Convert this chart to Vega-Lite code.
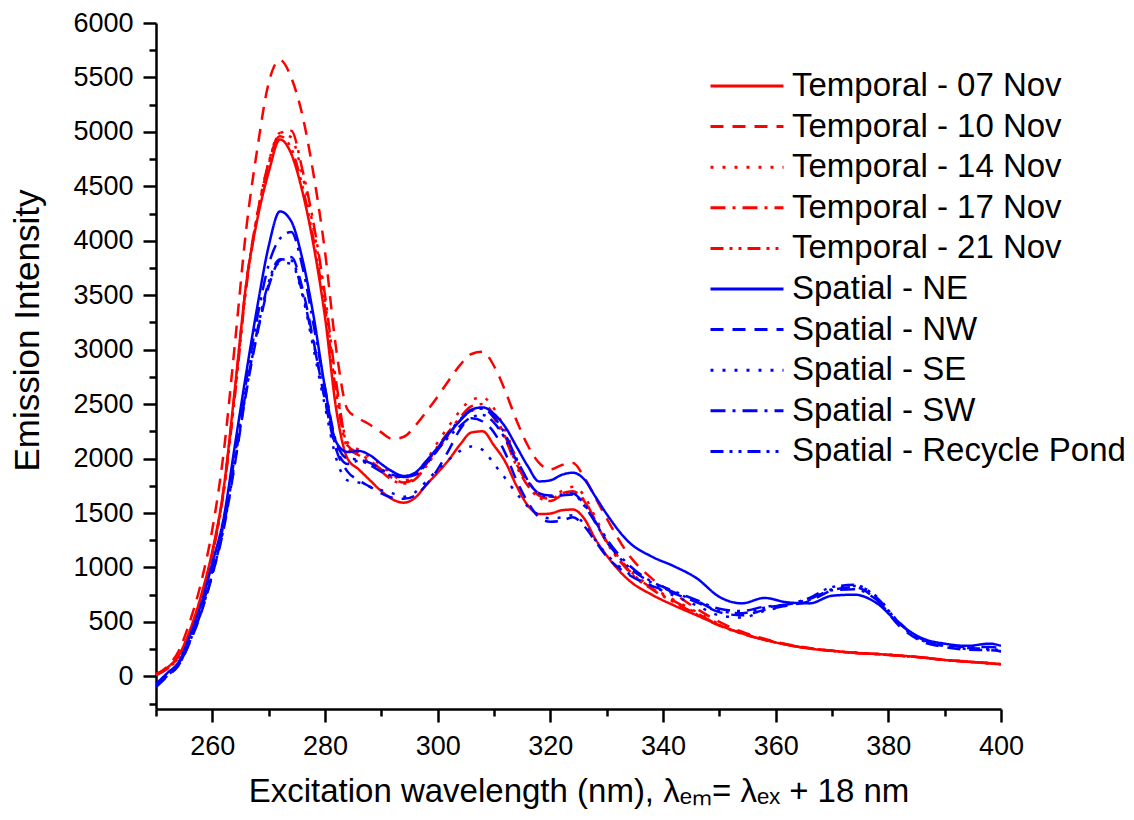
{
"$schema": "https://vega.github.io/schema/vega-lite/v6.json",
"width": 845, "height": 686,
"autosize": {"type": "none"},
"padding": {"left": 156, "top": 23, "right": 133, "bottom": 111},
"background": "white",
"config": {"view": {"stroke": null}, "font": "Liberation Sans"},
"datasets": {"d": [
{"s":"Temporal - 07 Nov","x":250,"y":20},{"s":"Temporal - 07 Nov","x":252,"y":80},{"s":"Temporal - 07 Nov","x":254,"y":190},{"s":"Temporal - 07 Nov","x":256,"y":420},{"s":"Temporal - 07 Nov","x":258,"y":740},{"s":"Temporal - 07 Nov","x":260,"y":1150},{"s":"Temporal - 07 Nov","x":262,"y":1720},{"s":"Temporal - 07 Nov","x":264,"y":2640},{"s":"Temporal - 07 Nov","x":266,"y":3600},{"s":"Temporal - 07 Nov","x":268,"y":4200},{"s":"Temporal - 07 Nov","x":270,"y":4630},{"s":"Temporal - 07 Nov","x":272,"y":4930},{"s":"Temporal - 07 Nov","x":274,"y":4800},{"s":"Temporal - 07 Nov","x":276,"y":4450},{"s":"Temporal - 07 Nov","x":278,"y":3950},{"s":"Temporal - 07 Nov","x":280,"y":3300},{"s":"Temporal - 07 Nov","x":282,"y":2450},{"s":"Temporal - 07 Nov","x":284,"y":2000},{"s":"Temporal - 07 Nov","x":286,"y":1900},{"s":"Temporal - 07 Nov","x":288,"y":1800},{"s":"Temporal - 07 Nov","x":290,"y":1700},{"s":"Temporal - 07 Nov","x":292,"y":1625},{"s":"Temporal - 07 Nov","x":294,"y":1595},{"s":"Temporal - 07 Nov","x":296,"y":1640},{"s":"Temporal - 07 Nov","x":298,"y":1760},{"s":"Temporal - 07 Nov","x":300,"y":1870},{"s":"Temporal - 07 Nov","x":302,"y":1990},{"s":"Temporal - 07 Nov","x":304,"y":2130},{"s":"Temporal - 07 Nov","x":306,"y":2240},{"s":"Temporal - 07 Nov","x":308,"y":2250},{"s":"Temporal - 07 Nov","x":310,"y":2120},{"s":"Temporal - 07 Nov","x":312,"y":1970},{"s":"Temporal - 07 Nov","x":314,"y":1750},{"s":"Temporal - 07 Nov","x":316,"y":1570},{"s":"Temporal - 07 Nov","x":318,"y":1490},{"s":"Temporal - 07 Nov","x":320,"y":1495},{"s":"Temporal - 07 Nov","x":322,"y":1525},{"s":"Temporal - 07 Nov","x":324,"y":1532},{"s":"Temporal - 07 Nov","x":326,"y":1450},{"s":"Temporal - 07 Nov","x":328,"y":1260},{"s":"Temporal - 07 Nov","x":330,"y":1110},{"s":"Temporal - 07 Nov","x":334,"y":880},{"s":"Temporal - 07 Nov","x":338,"y":750},{"s":"Temporal - 07 Nov","x":342,"y":650},{"s":"Temporal - 07 Nov","x":346,"y":560},{"s":"Temporal - 07 Nov","x":350,"y":470},{"s":"Temporal - 07 Nov","x":354,"y":395},{"s":"Temporal - 07 Nov","x":358,"y":335},{"s":"Temporal - 07 Nov","x":362,"y":290},{"s":"Temporal - 07 Nov","x":366,"y":255},{"s":"Temporal - 07 Nov","x":370,"y":235},{"s":"Temporal - 07 Nov","x":374,"y":215},{"s":"Temporal - 07 Nov","x":378,"y":205},{"s":"Temporal - 07 Nov","x":382,"y":190},{"s":"Temporal - 07 Nov","x":386,"y":175},{"s":"Temporal - 07 Nov","x":390,"y":150},{"s":"Temporal - 07 Nov","x":394,"y":135},{"s":"Temporal - 07 Nov","x":398,"y":120},{"s":"Temporal - 07 Nov","x":400,"y":110},
{"s":"Temporal - 10 Nov","x":250,"y":20},{"s":"Temporal - 10 Nov","x":252,"y":90},{"s":"Temporal - 10 Nov","x":254,"y":230},{"s":"Temporal - 10 Nov","x":256,"y":500},{"s":"Temporal - 10 Nov","x":258,"y":860},{"s":"Temporal - 10 Nov","x":260,"y":1350},{"s":"Temporal - 10 Nov","x":262,"y":2050},{"s":"Temporal - 10 Nov","x":264,"y":3050},{"s":"Temporal - 10 Nov","x":266,"y":4100},{"s":"Temporal - 10 Nov","x":268,"y":4850},{"s":"Temporal - 10 Nov","x":270,"y":5450},{"s":"Temporal - 10 Nov","x":272,"y":5660},{"s":"Temporal - 10 Nov","x":274,"y":5500},{"s":"Temporal - 10 Nov","x":276,"y":5150},{"s":"Temporal - 10 Nov","x":278,"y":4600},{"s":"Temporal - 10 Nov","x":280,"y":3900},{"s":"Temporal - 10 Nov","x":282,"y":3000},{"s":"Temporal - 10 Nov","x":284,"y":2450},{"s":"Temporal - 10 Nov","x":286,"y":2370},{"s":"Temporal - 10 Nov","x":288,"y":2310},{"s":"Temporal - 10 Nov","x":290,"y":2240},{"s":"Temporal - 10 Nov","x":292,"y":2180},{"s":"Temporal - 10 Nov","x":294,"y":2200},{"s":"Temporal - 10 Nov","x":296,"y":2300},{"s":"Temporal - 10 Nov","x":298,"y":2430},{"s":"Temporal - 10 Nov","x":300,"y":2570},{"s":"Temporal - 10 Nov","x":302,"y":2720},{"s":"Temporal - 10 Nov","x":304,"y":2860},{"s":"Temporal - 10 Nov","x":306,"y":2960},{"s":"Temporal - 10 Nov","x":308,"y":2980},{"s":"Temporal - 10 Nov","x":310,"y":2850},{"s":"Temporal - 10 Nov","x":312,"y":2620},{"s":"Temporal - 10 Nov","x":314,"y":2350},{"s":"Temporal - 10 Nov","x":316,"y":2120},{"s":"Temporal - 10 Nov","x":318,"y":1960},{"s":"Temporal - 10 Nov","x":320,"y":1900},{"s":"Temporal - 10 Nov","x":322,"y":1940},{"s":"Temporal - 10 Nov","x":324,"y":1960},{"s":"Temporal - 10 Nov","x":326,"y":1830},{"s":"Temporal - 10 Nov","x":328,"y":1640},{"s":"Temporal - 10 Nov","x":330,"y":1450},{"s":"Temporal - 10 Nov","x":334,"y":1110},{"s":"Temporal - 10 Nov","x":338,"y":900},{"s":"Temporal - 10 Nov","x":342,"y":760},{"s":"Temporal - 10 Nov","x":346,"y":620},{"s":"Temporal - 10 Nov","x":350,"y":500},{"s":"Temporal - 10 Nov","x":354,"y":410},{"s":"Temporal - 10 Nov","x":358,"y":345},{"s":"Temporal - 10 Nov","x":362,"y":295},{"s":"Temporal - 10 Nov","x":366,"y":260},{"s":"Temporal - 10 Nov","x":370,"y":235},{"s":"Temporal - 10 Nov","x":374,"y":218},{"s":"Temporal - 10 Nov","x":378,"y":205},{"s":"Temporal - 10 Nov","x":382,"y":190},{"s":"Temporal - 10 Nov","x":386,"y":172},{"s":"Temporal - 10 Nov","x":390,"y":150},{"s":"Temporal - 10 Nov","x":394,"y":135},{"s":"Temporal - 10 Nov","x":398,"y":120},{"s":"Temporal - 10 Nov","x":400,"y":110},
{"s":"Temporal - 14 Nov","x":250,"y":10},{"s":"Temporal - 14 Nov","x":252,"y":70},{"s":"Temporal - 14 Nov","x":254,"y":175},{"s":"Temporal - 14 Nov","x":256,"y":400},{"s":"Temporal - 14 Nov","x":258,"y":720},{"s":"Temporal - 14 Nov","x":260,"y":1120},{"s":"Temporal - 14 Nov","x":262,"y":1700},{"s":"Temporal - 14 Nov","x":264,"y":2600},{"s":"Temporal - 14 Nov","x":266,"y":3580},{"s":"Temporal - 14 Nov","x":268,"y":4250},{"s":"Temporal - 14 Nov","x":270,"y":4720},{"s":"Temporal - 14 Nov","x":272,"y":4990},{"s":"Temporal - 14 Nov","x":274,"y":4950},{"s":"Temporal - 14 Nov","x":276,"y":4600},{"s":"Temporal - 14 Nov","x":278,"y":4100},{"s":"Temporal - 14 Nov","x":280,"y":3450},{"s":"Temporal - 14 Nov","x":282,"y":2650},{"s":"Temporal - 14 Nov","x":284,"y":2150},{"s":"Temporal - 14 Nov","x":286,"y":2080},{"s":"Temporal - 14 Nov","x":288,"y":2010},{"s":"Temporal - 14 Nov","x":290,"y":1940},{"s":"Temporal - 14 Nov","x":292,"y":1850},{"s":"Temporal - 14 Nov","x":294,"y":1800},{"s":"Temporal - 14 Nov","x":296,"y":1840},{"s":"Temporal - 14 Nov","x":298,"y":1980},{"s":"Temporal - 14 Nov","x":300,"y":2150},{"s":"Temporal - 14 Nov","x":302,"y":2300},{"s":"Temporal - 14 Nov","x":304,"y":2440},{"s":"Temporal - 14 Nov","x":306,"y":2540},{"s":"Temporal - 14 Nov","x":308,"y":2560},{"s":"Temporal - 14 Nov","x":310,"y":2460},{"s":"Temporal - 14 Nov","x":312,"y":2260},{"s":"Temporal - 14 Nov","x":314,"y":2000},{"s":"Temporal - 14 Nov","x":316,"y":1800},{"s":"Temporal - 14 Nov","x":318,"y":1680},{"s":"Temporal - 14 Nov","x":320,"y":1650},{"s":"Temporal - 14 Nov","x":322,"y":1700},{"s":"Temporal - 14 Nov","x":324,"y":1740},{"s":"Temporal - 14 Nov","x":326,"y":1660},{"s":"Temporal - 14 Nov","x":328,"y":1460},{"s":"Temporal - 14 Nov","x":330,"y":1260},{"s":"Temporal - 14 Nov","x":334,"y":980},{"s":"Temporal - 14 Nov","x":338,"y":820},{"s":"Temporal - 14 Nov","x":342,"y":700},{"s":"Temporal - 14 Nov","x":346,"y":590},{"s":"Temporal - 14 Nov","x":350,"y":480},{"s":"Temporal - 14 Nov","x":354,"y":400},{"s":"Temporal - 14 Nov","x":358,"y":340},{"s":"Temporal - 14 Nov","x":362,"y":292},{"s":"Temporal - 14 Nov","x":366,"y":258},{"s":"Temporal - 14 Nov","x":370,"y":236},{"s":"Temporal - 14 Nov","x":374,"y":217},{"s":"Temporal - 14 Nov","x":378,"y":206},{"s":"Temporal - 14 Nov","x":382,"y":190},{"s":"Temporal - 14 Nov","x":386,"y":174},{"s":"Temporal - 14 Nov","x":390,"y":152},{"s":"Temporal - 14 Nov","x":394,"y":136},{"s":"Temporal - 14 Nov","x":398,"y":121},{"s":"Temporal - 14 Nov","x":400,"y":112},
{"s":"Temporal - 17 Nov","x":250,"y":15},{"s":"Temporal - 17 Nov","x":252,"y":75},{"s":"Temporal - 17 Nov","x":254,"y":180},{"s":"Temporal - 17 Nov","x":256,"y":410},{"s":"Temporal - 17 Nov","x":258,"y":730},{"s":"Temporal - 17 Nov","x":260,"y":1130},{"s":"Temporal - 17 Nov","x":262,"y":1710},{"s":"Temporal - 17 Nov","x":264,"y":2620},{"s":"Temporal - 17 Nov","x":266,"y":3600},{"s":"Temporal - 17 Nov","x":268,"y":4250},{"s":"Temporal - 17 Nov","x":270,"y":4700},{"s":"Temporal - 17 Nov","x":272,"y":4990},{"s":"Temporal - 17 Nov","x":274,"y":5010},{"s":"Temporal - 17 Nov","x":276,"y":4650},{"s":"Temporal - 17 Nov","x":278,"y":4150},{"s":"Temporal - 17 Nov","x":280,"y":3500},{"s":"Temporal - 17 Nov","x":282,"y":2700},{"s":"Temporal - 17 Nov","x":284,"y":2120},{"s":"Temporal - 17 Nov","x":286,"y":2050},{"s":"Temporal - 17 Nov","x":288,"y":1980},{"s":"Temporal - 17 Nov","x":290,"y":1900},{"s":"Temporal - 17 Nov","x":292,"y":1820},{"s":"Temporal - 17 Nov","x":294,"y":1780},{"s":"Temporal - 17 Nov","x":296,"y":1820},{"s":"Temporal - 17 Nov","x":298,"y":1950},{"s":"Temporal - 17 Nov","x":300,"y":2110},{"s":"Temporal - 17 Nov","x":302,"y":2250},{"s":"Temporal - 17 Nov","x":304,"y":2380},{"s":"Temporal - 17 Nov","x":306,"y":2480},{"s":"Temporal - 17 Nov","x":308,"y":2500},{"s":"Temporal - 17 Nov","x":310,"y":2400},{"s":"Temporal - 17 Nov","x":312,"y":2200},{"s":"Temporal - 17 Nov","x":314,"y":1950},{"s":"Temporal - 17 Nov","x":316,"y":1770},{"s":"Temporal - 17 Nov","x":318,"y":1660},{"s":"Temporal - 17 Nov","x":320,"y":1630},{"s":"Temporal - 17 Nov","x":322,"y":1680},{"s":"Temporal - 17 Nov","x":324,"y":1700},{"s":"Temporal - 17 Nov","x":326,"y":1620},{"s":"Temporal - 17 Nov","x":328,"y":1430},{"s":"Temporal - 17 Nov","x":330,"y":1240},{"s":"Temporal - 17 Nov","x":334,"y":970},{"s":"Temporal - 17 Nov","x":338,"y":810},{"s":"Temporal - 17 Nov","x":342,"y":690},{"s":"Temporal - 17 Nov","x":346,"y":580},{"s":"Temporal - 17 Nov","x":350,"y":470},{"s":"Temporal - 17 Nov","x":354,"y":395},{"s":"Temporal - 17 Nov","x":358,"y":338},{"s":"Temporal - 17 Nov","x":362,"y":290},{"s":"Temporal - 17 Nov","x":366,"y":256},{"s":"Temporal - 17 Nov","x":370,"y":234},{"s":"Temporal - 17 Nov","x":374,"y":216},{"s":"Temporal - 17 Nov","x":378,"y":204},{"s":"Temporal - 17 Nov","x":382,"y":188},{"s":"Temporal - 17 Nov","x":386,"y":172},{"s":"Temporal - 17 Nov","x":390,"y":150},{"s":"Temporal - 17 Nov","x":394,"y":134},{"s":"Temporal - 17 Nov","x":398,"y":119},{"s":"Temporal - 17 Nov","x":400,"y":110},
{"s":"Temporal - 21 Nov","x":250,"y":10},{"s":"Temporal - 21 Nov","x":252,"y":70},{"s":"Temporal - 21 Nov","x":254,"y":170},{"s":"Temporal - 21 Nov","x":256,"y":390},{"s":"Temporal - 21 Nov","x":258,"y":710},{"s":"Temporal - 21 Nov","x":260,"y":1110},{"s":"Temporal - 21 Nov","x":262,"y":1690},{"s":"Temporal - 21 Nov","x":264,"y":2570},{"s":"Temporal - 21 Nov","x":266,"y":3560},{"s":"Temporal - 21 Nov","x":268,"y":4230},{"s":"Temporal - 21 Nov","x":270,"y":4720},{"s":"Temporal - 21 Nov","x":272,"y":4960},{"s":"Temporal - 21 Nov","x":274,"y":4850},{"s":"Temporal - 21 Nov","x":276,"y":4500},{"s":"Temporal - 21 Nov","x":278,"y":4000},{"s":"Temporal - 21 Nov","x":280,"y":3380},{"s":"Temporal - 21 Nov","x":282,"y":2600},{"s":"Temporal - 21 Nov","x":284,"y":2100},{"s":"Temporal - 21 Nov","x":286,"y":2030},{"s":"Temporal - 21 Nov","x":288,"y":1960},{"s":"Temporal - 21 Nov","x":290,"y":1880},{"s":"Temporal - 21 Nov","x":292,"y":1800},{"s":"Temporal - 21 Nov","x":294,"y":1770},{"s":"Temporal - 21 Nov","x":296,"y":1810},{"s":"Temporal - 21 Nov","x":298,"y":1930},{"s":"Temporal - 21 Nov","x":300,"y":2080},{"s":"Temporal - 21 Nov","x":302,"y":2220},{"s":"Temporal - 21 Nov","x":304,"y":2350},{"s":"Temporal - 21 Nov","x":306,"y":2440},{"s":"Temporal - 21 Nov","x":308,"y":2460},{"s":"Temporal - 21 Nov","x":310,"y":2370},{"s":"Temporal - 21 Nov","x":312,"y":2180},{"s":"Temporal - 21 Nov","x":314,"y":1930},{"s":"Temporal - 21 Nov","x":316,"y":1750},{"s":"Temporal - 21 Nov","x":318,"y":1640},{"s":"Temporal - 21 Nov","x":320,"y":1610},{"s":"Temporal - 21 Nov","x":322,"y":1660},{"s":"Temporal - 21 Nov","x":324,"y":1690},{"s":"Temporal - 21 Nov","x":326,"y":1610},{"s":"Temporal - 21 Nov","x":328,"y":1420},{"s":"Temporal - 21 Nov","x":330,"y":1230},{"s":"Temporal - 21 Nov","x":334,"y":960},{"s":"Temporal - 21 Nov","x":338,"y":800},{"s":"Temporal - 21 Nov","x":342,"y":680},{"s":"Temporal - 21 Nov","x":346,"y":570},{"s":"Temporal - 21 Nov","x":350,"y":465},{"s":"Temporal - 21 Nov","x":354,"y":392},{"s":"Temporal - 21 Nov","x":358,"y":336},{"s":"Temporal - 21 Nov","x":362,"y":290},{"s":"Temporal - 21 Nov","x":366,"y":255},{"s":"Temporal - 21 Nov","x":370,"y":233},{"s":"Temporal - 21 Nov","x":374,"y":215},{"s":"Temporal - 21 Nov","x":378,"y":204},{"s":"Temporal - 21 Nov","x":382,"y":189},{"s":"Temporal - 21 Nov","x":386,"y":173},{"s":"Temporal - 21 Nov","x":390,"y":151},{"s":"Temporal - 21 Nov","x":394,"y":135},{"s":"Temporal - 21 Nov","x":398,"y":120},{"s":"Temporal - 21 Nov","x":400,"y":111},
{"s":"Spatial - NE","x":250,"y":-70},{"s":"Spatial - NE","x":252,"y":30},{"s":"Spatial - NE","x":254,"y":130},{"s":"Spatial - NE","x":256,"y":370},{"s":"Spatial - NE","x":258,"y":660},{"s":"Spatial - NE","x":260,"y":1040},{"s":"Spatial - NE","x":262,"y":1450},{"s":"Spatial - NE","x":264,"y":2120},{"s":"Spatial - NE","x":266,"y":2780},{"s":"Spatial - NE","x":268,"y":3400},{"s":"Spatial - NE","x":270,"y":3950},{"s":"Spatial - NE","x":272,"y":4270},{"s":"Spatial - NE","x":274,"y":4180},{"s":"Spatial - NE","x":276,"y":3830},{"s":"Spatial - NE","x":278,"y":3300},{"s":"Spatial - NE","x":280,"y":2650},{"s":"Spatial - NE","x":282,"y":2150},{"s":"Spatial - NE","x":284,"y":2060},{"s":"Spatial - NE","x":286,"y":2070},{"s":"Spatial - NE","x":288,"y":2030},{"s":"Spatial - NE","x":290,"y":1950},{"s":"Spatial - NE","x":292,"y":1880},{"s":"Spatial - NE","x":294,"y":1840},{"s":"Spatial - NE","x":296,"y":1870},{"s":"Spatial - NE","x":298,"y":1980},{"s":"Spatial - NE","x":300,"y":2100},{"s":"Spatial - NE","x":302,"y":2230},{"s":"Spatial - NE","x":304,"y":2350},{"s":"Spatial - NE","x":306,"y":2450},{"s":"Spatial - NE","x":308,"y":2470},{"s":"Spatial - NE","x":310,"y":2410},{"s":"Spatial - NE","x":312,"y":2290},{"s":"Spatial - NE","x":314,"y":2110},{"s":"Spatial - NE","x":316,"y":1930},{"s":"Spatial - NE","x":318,"y":1790},{"s":"Spatial - NE","x":320,"y":1800},{"s":"Spatial - NE","x":322,"y":1850},{"s":"Spatial - NE","x":324,"y":1870},{"s":"Spatial - NE","x":326,"y":1810},{"s":"Spatial - NE","x":328,"y":1650},{"s":"Spatial - NE","x":330,"y":1490},{"s":"Spatial - NE","x":334,"y":1230},{"s":"Spatial - NE","x":338,"y":1100},{"s":"Spatial - NE","x":342,"y":1010},{"s":"Spatial - NE","x":346,"y":900},{"s":"Spatial - NE","x":350,"y":730},{"s":"Spatial - NE","x":354,"y":670},{"s":"Spatial - NE","x":358,"y":720},{"s":"Spatial - NE","x":362,"y":680},{"s":"Spatial - NE","x":366,"y":670},{"s":"Spatial - NE","x":370,"y":740},{"s":"Spatial - NE","x":374,"y":750},{"s":"Spatial - NE","x":378,"y":670},{"s":"Spatial - NE","x":382,"y":480},{"s":"Spatial - NE","x":386,"y":350},{"s":"Spatial - NE","x":390,"y":300},{"s":"Spatial - NE","x":394,"y":280},{"s":"Spatial - NE","x":398,"y":300},{"s":"Spatial - NE","x":400,"y":280},
{"s":"Spatial - NW","x":250,"y":-100},{"s":"Spatial - NW","x":252,"y":0},{"s":"Spatial - NW","x":254,"y":100},{"s":"Spatial - NW","x":256,"y":310},{"s":"Spatial - NW","x":258,"y":580},{"s":"Spatial - NW","x":260,"y":930},{"s":"Spatial - NW","x":262,"y":1350},{"s":"Spatial - NW","x":264,"y":1950},{"s":"Spatial - NW","x":266,"y":2600},{"s":"Spatial - NW","x":268,"y":3150},{"s":"Spatial - NW","x":270,"y":3580},{"s":"Spatial - NW","x":272,"y":3820},{"s":"Spatial - NW","x":274,"y":3850},{"s":"Spatial - NW","x":276,"y":3560},{"s":"Spatial - NW","x":278,"y":3070},{"s":"Spatial - NW","x":280,"y":2530},{"s":"Spatial - NW","x":282,"y":2080},{"s":"Spatial - NW","x":284,"y":1880},{"s":"Spatial - NW","x":286,"y":1800},{"s":"Spatial - NW","x":288,"y":1740},{"s":"Spatial - NW","x":290,"y":1680},{"s":"Spatial - NW","x":292,"y":1640},{"s":"Spatial - NW","x":294,"y":1630},{"s":"Spatial - NW","x":296,"y":1660},{"s":"Spatial - NW","x":298,"y":1760},{"s":"Spatial - NW","x":300,"y":1900},{"s":"Spatial - NW","x":302,"y":2080},{"s":"Spatial - NW","x":304,"y":2270},{"s":"Spatial - NW","x":306,"y":2370},{"s":"Spatial - NW","x":308,"y":2340},{"s":"Spatial - NW","x":310,"y":2240},{"s":"Spatial - NW","x":312,"y":2050},{"s":"Spatial - NW","x":314,"y":1800},{"s":"Spatial - NW","x":316,"y":1600},{"s":"Spatial - NW","x":318,"y":1460},{"s":"Spatial - NW","x":320,"y":1420},{"s":"Spatial - NW","x":322,"y":1430},{"s":"Spatial - NW","x":324,"y":1460},{"s":"Spatial - NW","x":326,"y":1380},{"s":"Spatial - NW","x":328,"y":1240},{"s":"Spatial - NW","x":330,"y":1100},{"s":"Spatial - NW","x":334,"y":930},{"s":"Spatial - NW","x":338,"y":830},{"s":"Spatial - NW","x":342,"y":760},{"s":"Spatial - NW","x":346,"y":680},{"s":"Spatial - NW","x":350,"y":590},{"s":"Spatial - NW","x":354,"y":560},{"s":"Spatial - NW","x":358,"y":610},{"s":"Spatial - NW","x":362,"y":650},{"s":"Spatial - NW","x":366,"y":690},{"s":"Spatial - NW","x":370,"y":790},{"s":"Spatial - NW","x":374,"y":820},{"s":"Spatial - NW","x":378,"y":700},{"s":"Spatial - NW","x":382,"y":460},{"s":"Spatial - NW","x":386,"y":320},{"s":"Spatial - NW","x":390,"y":270},{"s":"Spatial - NW","x":394,"y":245},{"s":"Spatial - NW","x":398,"y":240},{"s":"Spatial - NW","x":400,"y":230},
{"s":"Spatial - SE","x":250,"y":-90},{"s":"Spatial - SE","x":252,"y":5},{"s":"Spatial - SE","x":254,"y":105},{"s":"Spatial - SE","x":256,"y":320},{"s":"Spatial - SE","x":258,"y":590},{"s":"Spatial - SE","x":260,"y":940},{"s":"Spatial - SE","x":262,"y":1360},{"s":"Spatial - SE","x":264,"y":1960},{"s":"Spatial - SE","x":266,"y":2620},{"s":"Spatial - SE","x":268,"y":3170},{"s":"Spatial - SE","x":270,"y":3600},{"s":"Spatial - SE","x":272,"y":3800},{"s":"Spatial - SE","x":274,"y":3790},{"s":"Spatial - SE","x":276,"y":3500},{"s":"Spatial - SE","x":278,"y":3000},{"s":"Spatial - SE","x":280,"y":2480},{"s":"Spatial - SE","x":282,"y":2000},{"s":"Spatial - SE","x":284,"y":1800},{"s":"Spatial - SE","x":286,"y":1780},{"s":"Spatial - SE","x":288,"y":1740},{"s":"Spatial - SE","x":290,"y":1710},{"s":"Spatial - SE","x":292,"y":1680},{"s":"Spatial - SE","x":294,"y":1650},{"s":"Spatial - SE","x":296,"y":1690},{"s":"Spatial - SE","x":298,"y":1790},{"s":"Spatial - SE","x":300,"y":1900},{"s":"Spatial - SE","x":302,"y":1990},{"s":"Spatial - SE","x":304,"y":2070},{"s":"Spatial - SE","x":306,"y":2110},{"s":"Spatial - SE","x":308,"y":2080},{"s":"Spatial - SE","x":310,"y":1950},{"s":"Spatial - SE","x":312,"y":1820},{"s":"Spatial - SE","x":314,"y":1680},{"s":"Spatial - SE","x":316,"y":1560},{"s":"Spatial - SE","x":318,"y":1480},{"s":"Spatial - SE","x":320,"y":1450},{"s":"Spatial - SE","x":322,"y":1460},{"s":"Spatial - SE","x":324,"y":1480},{"s":"Spatial - SE","x":326,"y":1400},{"s":"Spatial - SE","x":328,"y":1250},{"s":"Spatial - SE","x":330,"y":1120},{"s":"Spatial - SE","x":334,"y":940},{"s":"Spatial - SE","x":338,"y":830},{"s":"Spatial - SE","x":342,"y":740},{"s":"Spatial - SE","x":346,"y":650},{"s":"Spatial - SE","x":350,"y":560},{"s":"Spatial - SE","x":354,"y":540},{"s":"Spatial - SE","x":358,"y":600},{"s":"Spatial - SE","x":362,"y":650},{"s":"Spatial - SE","x":366,"y":700},{"s":"Spatial - SE","x":370,"y":800},{"s":"Spatial - SE","x":374,"y":830},{"s":"Spatial - SE","x":378,"y":730},{"s":"Spatial - SE","x":382,"y":480},{"s":"Spatial - SE","x":386,"y":330},{"s":"Spatial - SE","x":390,"y":280},{"s":"Spatial - SE","x":394,"y":250},{"s":"Spatial - SE","x":398,"y":240},{"s":"Spatial - SE","x":400,"y":230},
{"s":"Spatial - SW","x":250,"y":-90},{"s":"Spatial - SW","x":252,"y":10},{"s":"Spatial - SW","x":254,"y":115},{"s":"Spatial - SW","x":256,"y":340},{"s":"Spatial - SW","x":258,"y":610},{"s":"Spatial - SW","x":260,"y":970},{"s":"Spatial - SW","x":262,"y":1400},{"s":"Spatial - SW","x":264,"y":2030},{"s":"Spatial - SW","x":266,"y":2700},{"s":"Spatial - SW","x":268,"y":3300},{"s":"Spatial - SW","x":270,"y":3780},{"s":"Spatial - SW","x":272,"y":4020},{"s":"Spatial - SW","x":274,"y":4080},{"s":"Spatial - SW","x":276,"y":3760},{"s":"Spatial - SW","x":278,"y":3220},{"s":"Spatial - SW","x":280,"y":2650},{"s":"Spatial - SW","x":282,"y":2150},{"s":"Spatial - SW","x":284,"y":2000},{"s":"Spatial - SW","x":286,"y":1990},{"s":"Spatial - SW","x":288,"y":1960},{"s":"Spatial - SW","x":290,"y":1900},{"s":"Spatial - SW","x":292,"y":1850},{"s":"Spatial - SW","x":294,"y":1830},{"s":"Spatial - SW","x":296,"y":1860},{"s":"Spatial - SW","x":298,"y":1960},{"s":"Spatial - SW","x":300,"y":2100},{"s":"Spatial - SW","x":302,"y":2240},{"s":"Spatial - SW","x":304,"y":2360},{"s":"Spatial - SW","x":306,"y":2440},{"s":"Spatial - SW","x":308,"y":2460},{"s":"Spatial - SW","x":310,"y":2380},{"s":"Spatial - SW","x":312,"y":2220},{"s":"Spatial - SW","x":314,"y":2000},{"s":"Spatial - SW","x":316,"y":1800},{"s":"Spatial - SW","x":318,"y":1680},{"s":"Spatial - SW","x":320,"y":1660},{"s":"Spatial - SW","x":322,"y":1670},{"s":"Spatial - SW","x":324,"y":1680},{"s":"Spatial - SW","x":326,"y":1580},{"s":"Spatial - SW","x":328,"y":1420},{"s":"Spatial - SW","x":330,"y":1260},{"s":"Spatial - SW","x":334,"y":1020},{"s":"Spatial - SW","x":338,"y":870},{"s":"Spatial - SW","x":342,"y":780},{"s":"Spatial - SW","x":346,"y":700},{"s":"Spatial - SW","x":350,"y":620},{"s":"Spatial - SW","x":354,"y":600},{"s":"Spatial - SW","x":358,"y":640},{"s":"Spatial - SW","x":362,"y":660},{"s":"Spatial - SW","x":366,"y":710},{"s":"Spatial - SW","x":370,"y":790},{"s":"Spatial - SW","x":374,"y":800},{"s":"Spatial - SW","x":378,"y":700},{"s":"Spatial - SW","x":382,"y":490},{"s":"Spatial - SW","x":386,"y":340},{"s":"Spatial - SW","x":390,"y":290},{"s":"Spatial - SW","x":394,"y":270},{"s":"Spatial - SW","x":398,"y":270},{"s":"Spatial - SW","x":400,"y":260},
{"s":"Spatial - Recycle Pond","x":250,"y":-95},{"s":"Spatial - Recycle Pond","x":252,"y":5},{"s":"Spatial - Recycle Pond","x":254,"y":105},{"s":"Spatial - Recycle Pond","x":256,"y":320},{"s":"Spatial - Recycle Pond","x":258,"y":590},{"s":"Spatial - Recycle Pond","x":260,"y":940},{"s":"Spatial - Recycle Pond","x":262,"y":1370},{"s":"Spatial - Recycle Pond","x":264,"y":1980},{"s":"Spatial - Recycle Pond","x":266,"y":2630},{"s":"Spatial - Recycle Pond","x":268,"y":3180},{"s":"Spatial - Recycle Pond","x":270,"y":3620},{"s":"Spatial - Recycle Pond","x":272,"y":3830},{"s":"Spatial - Recycle Pond","x":274,"y":3820},{"s":"Spatial - Recycle Pond","x":276,"y":3520},{"s":"Spatial - Recycle Pond","x":278,"y":3050},{"s":"Spatial - Recycle Pond","x":280,"y":2550},{"s":"Spatial - Recycle Pond","x":282,"y":2100},{"s":"Spatial - Recycle Pond","x":284,"y":1950},{"s":"Spatial - Recycle Pond","x":286,"y":1980},{"s":"Spatial - Recycle Pond","x":288,"y":1940},{"s":"Spatial - Recycle Pond","x":290,"y":1880},{"s":"Spatial - Recycle Pond","x":292,"y":1840},{"s":"Spatial - Recycle Pond","x":294,"y":1830},{"s":"Spatial - Recycle Pond","x":296,"y":1850},{"s":"Spatial - Recycle Pond","x":298,"y":1950},{"s":"Spatial - Recycle Pond","x":300,"y":2080},{"s":"Spatial - Recycle Pond","x":302,"y":2200},{"s":"Spatial - Recycle Pond","x":304,"y":2300},{"s":"Spatial - Recycle Pond","x":306,"y":2380},{"s":"Spatial - Recycle Pond","x":308,"y":2400},{"s":"Spatial - Recycle Pond","x":310,"y":2330},{"s":"Spatial - Recycle Pond","x":312,"y":2180},{"s":"Spatial - Recycle Pond","x":314,"y":1980},{"s":"Spatial - Recycle Pond","x":316,"y":1790},{"s":"Spatial - Recycle Pond","x":318,"y":1680},{"s":"Spatial - Recycle Pond","x":320,"y":1650},{"s":"Spatial - Recycle Pond","x":322,"y":1660},{"s":"Spatial - Recycle Pond","x":324,"y":1670},{"s":"Spatial - Recycle Pond","x":326,"y":1570},{"s":"Spatial - Recycle Pond","x":328,"y":1410},{"s":"Spatial - Recycle Pond","x":330,"y":1240},{"s":"Spatial - Recycle Pond","x":334,"y":1000},{"s":"Spatial - Recycle Pond","x":338,"y":860},{"s":"Spatial - Recycle Pond","x":342,"y":770},{"s":"Spatial - Recycle Pond","x":346,"y":690},{"s":"Spatial - Recycle Pond","x":350,"y":600},{"s":"Spatial - Recycle Pond","x":354,"y":580},{"s":"Spatial - Recycle Pond","x":358,"y":630},{"s":"Spatial - Recycle Pond","x":362,"y":660},{"s":"Spatial - Recycle Pond","x":366,"y":720},{"s":"Spatial - Recycle Pond","x":370,"y":820},{"s":"Spatial - Recycle Pond","x":374,"y":840},{"s":"Spatial - Recycle Pond","x":378,"y":720},{"s":"Spatial - Recycle Pond","x":382,"y":490},{"s":"Spatial - Recycle Pond","x":386,"y":330},{"s":"Spatial - Recycle Pond","x":390,"y":280},{"s":"Spatial - Recycle Pond","x":394,"y":260},{"s":"Spatial - Recycle Pond","x":398,"y":250},{"s":"Spatial - Recycle Pond","x":400,"y":240}
]},
"data": {"name": "d"},
"mark": {"type": "line", "strokeWidth": 2.5, "interpolate": "monotone", "clip": true},
"encoding": {
  "x": {"field": "x", "type": "quantitative",
    "scale": {"domain": [250, 400], "nice": false, "zero": false},
    "axis": {"values": [250,260,270,280,290,300,310,320,330,340,350,360,370,380,390,400],
      "labelExpr": "datum.value % 20 === 0 ? datum.label : ''",
      "title": "Excitation wavelength (nm), λₑₘ= λₑₓ + 18 nm",
      "titleFont": "Liberation Sans", "titleFontSize": 33, "titleFontWeight": "normal", "titleColor": "black", "titlePadding": 16,
      "labelFont": "Liberation Sans", "labelFontSize": 27, "labelColor": "black", "labelPadding": 11, "labelFlush": false,
      "tickSize": {"condition": {"test": "datum.value % 20 === 0", "value": 13}, "value": 7},
      "tickWidth": 2.5, "tickColor": "black", "domainColor": "black", "domainWidth": 2.5, "grid": false}},
  "y": {"field": "y", "type": "quantitative",
    "scale": {"domain": [-300, 6000], "nice": false, "zero": false},
    "axis": {"values": [-250,0,250,500,750,1000,1250,1500,1750,2000,2250,2500,2750,3000,3250,3500,3750,4000,4250,4500,4750,5000,5250,5500,5750,6000],
      "labelExpr": "datum.value % 500 === 0 ? datum.label : ''",
      "format": "d",
      "title": "Emission Intensity",
      "titleFont": "Liberation Sans", "titleFontSize": 35, "titleFontWeight": "normal", "titleColor": "black", "titlePadding": 27, "titleY": 307,
      "labelFont": "Liberation Sans", "labelFontSize": 27, "labelColor": "black", "labelPadding": 10, "labelFlush": false,
      "tickSize": {"condition": {"test": "datum.value % 500 === 0", "value": 13}, "value": 7},
      "tickWidth": 2.5, "tickColor": "black", "domainColor": "black", "domainWidth": 2.5, "grid": false}},
  "color": {"field": "s", "type": "nominal",
    "scale": {"domain": ["Temporal - 07 Nov","Temporal - 10 Nov","Temporal - 14 Nov","Temporal - 17 Nov","Temporal - 21 Nov","Spatial - NE","Spatial - NW","Spatial - SE","Spatial - SW","Spatial - Recycle Pond"],
      "range": ["#FF0000","#FF0000","#FF0000","#FF0000","#FF0000","#0000FF","#0000FF","#0000FF","#0000FF","#0000FF"]},
    "legend": {"title": null, "orient": "none", "legendX": 553, "legendY": 47, "padding": 0,
      "symbolType": "stroke", "symbolSize": 5329, "symbolStrokeWidth": 3, "clipHeight": 32, "rowPadding": 7.6,
      "labelFont": "Liberation Sans", "labelFontSize": 33, "labelColor": "black", "labelOffset": 7, "labelLimit": 500}},
  "strokeDash": {"field": "s", "type": "nominal",
    "scale": {"domain": ["Temporal - 07 Nov","Temporal - 10 Nov","Temporal - 14 Nov","Temporal - 17 Nov","Temporal - 21 Nov","Spatial - NE","Spatial - NW","Spatial - SE","Spatial - SW","Spatial - Recycle Pond"],
      "range": [[1,0],[13,9],[3,9],[15,7,3,7],[13,6,3,6,3,6],[1,0],[13,9],[3,9],[15,7,3,7],[13,6,3,6,3,6]]}}
}
}
